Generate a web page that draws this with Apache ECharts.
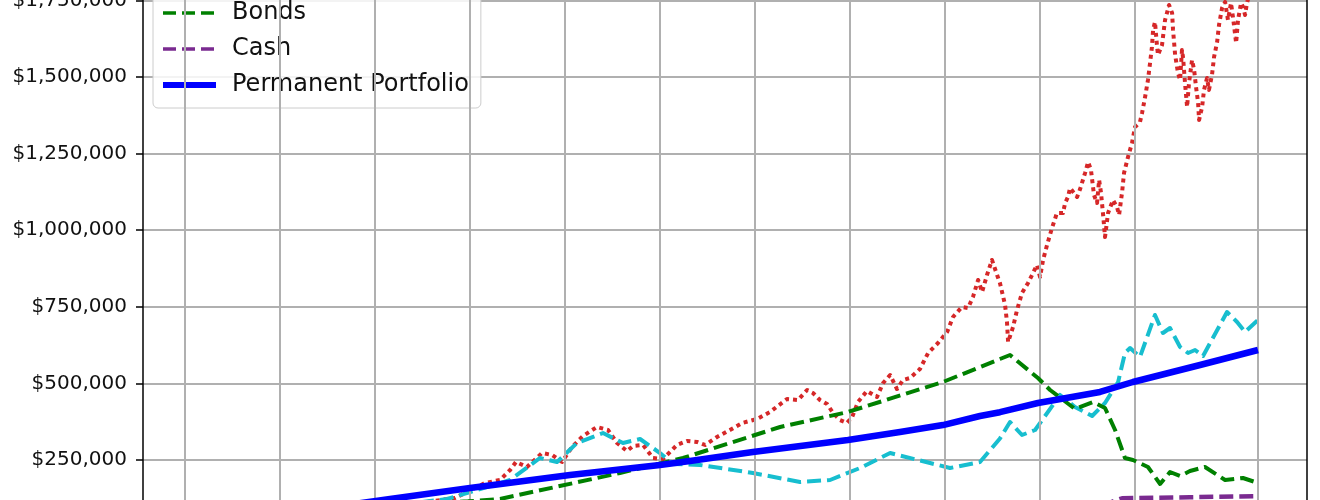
<!DOCTYPE html>
<html><head><meta charset="utf-8">
<script src="https://cdn.jsdelivr.net/npm/echarts/dist/echarts.min.js"></script>
<style>html,body{margin:0;padding:0;background:#fff}#c{width:1320px;height:500px}</style>
</head><body><div id="c"></div>
<script>
const seriesNames = ['Stocks', 'Gold', 'Bonds', 'Cash', 'Permanent Portfolio'];

const stocks = [[1973.16,100000],[1977.37,110000],[1979.21,126000],[1980.37,161900],[1980.79,175000],[1981.58,184700],[1982.11,217400],[1982.42,243500],[1983.0,227200],[1983.79,273000],[1984.32,266300],[1984.84,243500],[1985.37,292500],[1985.95,328400],[1986.68,357800],[1987.26,348000],[1987.74,305500],[1988.26,279400],[1988.58,295700],[1989.11,299000],[1989.63,256500],[1990.16,253300],[1990.89,299000],[1991.42,312000],[1991.95,308800],[1992.37,299000],[1993.0,325100],[1993.68,348000],[1994.32,370800],[1995.11,383800],[1995.79,406700],[1996.68,449100],[1997.26,445800],[1997.74,478500],[1998.05,468700],[1998.42,445800],[1998.79,432800],[1999.11,403400],[1999.47,380500],[1999.84,370800],[2000.11,390300],[2000.42,439300],[2000.89,475200],[2001.42,455600],[2001.74,501300],[2002.11,527400],[2002.47,481700],[2002.79,511100],[2003.16,517600],[2003.68,547000],[2004.11,599200],[2004.63,631900],[2005.11,667800],[2005.42,716800],[2005.89,749400],[2006.21,746100],[2006.47,782000],[2006.74,837500],[2006.95,798400],[2007.21,853800],[2007.47,902800],[2007.74,853800],[2007.89,827800],[2008.16,756000],[2008.26,700400],[2008.32,635100],[2008.58,684100],[2008.79,739600],[2009.05,795100],[2009.37,827800],[2009.63,860400],[2009.84,886500],[2010.0,847400],[2010.16,902800],[2010.37,951800],[2010.63,1007300],[2010.89,1056200],[2011.21,1056200],[2011.32,1088800],[2011.47,1108400],[2011.58,1137800],[2011.95,1108400],[2012.11,1134500],[2012.37,1186700],[2012.53,1222500],[2012.68,1196600],[2012.84,1115000],[2013.0,1088800],[2013.11,1164000],[2013.21,1121500],[2013.32,1049700],[2013.42,977900],[2013.58,1056200],[2013.84,1098600],[2014.05,1075800],[2014.16,1049700],[2014.32,1124700],[2014.42,1186700],[2014.63,1239000],[2014.84,1284700],[2015.0,1336900],[2015.26,1353200],[2015.37,1382600],[2015.53,1435000],[2015.68,1490300],[2015.79,1545800],[2015.89,1598000],[2015.95,1653500],[2016.05,1679600],[2016.16,1598000],[2016.21,1572000],[2016.42,1604600],[2016.58,1686200],[2016.68,1709000],[2016.79,1735100],[2016.95,1709000],[2017.0,1653500],[2017.11,1572000],[2017.26,1513200],[2017.37,1490300],[2017.47,1588200],[2017.53,1562100],[2017.63,1480500],[2017.74,1402200],[2017.84,1480500],[2018.0,1555600],[2018.11,1523000],[2018.21,1467500],[2018.32,1415200],[2018.37,1359700],[2018.53,1402200],[2018.63,1457700],[2018.79,1496900],[2018.89,1457700],[2019.05,1506600],[2019.16,1565400],[2019.32,1614300],[2019.42,1669800],[2019.58,1725300],[2019.74,1745000],[2019.89,1686200],[2020.05,1741700],[2020.16,1692700],[2020.32,1611100],[2020.42,1686200],[2020.58,1741700],[2020.68,1728700],[2020.79,1702500],[2020.89,1741700],[2021.16,1800000],[2021.47,1784000]];

const gold = [[1973.16,100000],[1977.37,112000],[1978.79,122700],[1982.11,184700],[1983.68,256500],[1984.58,243500],[1985.63,305500],[1987.0,338100],[1988.05,305500],[1988.95,318500],[1990.0,272800],[1990.68,237000],[1992.11,233700],[1994.89,207600],[1997.37,178200],[1998.95,184700],[2000.53,223900],[2002.11,272800],[2004.21,240200],[2005.26,223900],[2006.84,243500],[2007.89,320000],[2008.42,374000],[2009.05,331600],[2009.74,347900],[2011.05,462200],[2011.84,423000],[2012.74,393600],[2013.42,436000],[2014.11,504600],[2014.47,599200],[2014.74,615600],[2015.26,586200],[2016.05,723300],[2016.47,664500],[2016.84,680800],[2017.37,618800],[2017.79,599200],[2018.16,609000],[2018.58,589500],[2019.84,733000],[2020.37,700400],[2020.79,667800],[2021.47,707000]];

const bonds = [[1973.16,100000],[1979.89,115000],[1981.58,122700],[1987.89,207600],[1991.21,256500],[1996.32,357700],[1999.89,406700],[2004.89,504600],[2007.89,579700],[2008.42,592700],[2009.89,517600],[2010.53,478500],[2011.84,416500],[2012.79,439300],[2013.42,419700],[2013.95,347900],[2014.47,256500],[2014.89,250000],[2015.68,227200],[2016.32,171700],[2016.84,210800],[2017.37,197800],[2017.89,214000],[2018.68,227200],[2019.74,184700],[2020.68,191200],[2021.47,175000]];

const cash = [[1973.16,100000],[2007.89,108000],[2013.68,111000],[2014.32,125000],[2017.89,128500],[2021.47,132000]];

const permanent = [[1973.16,100000],[1975.79,122700],[1980.0,158600],[1985.26,201000],[1990.0,233700],[1991.58,246700],[1994.89,276000],[1999.89,315000],[2002.63,341400],[2004.89,364000],[2006.84,393600],[2007.89,406000],[2009.89,436000],[2013.16,472000],[2014.89,504600],[2018.42,560000],[2021.47,609000]];

const xGridYears = [1965, 1970, 1975, 1980, 1985, 1990, 1995, 2000, 2005, 2010, 2015, 2021.47];
const xMin = 1962.79, xMax = 2024.05;
const yMin = 0, yMax = 2000000, yStep = 250000;

const chart = echarts.init(document.getElementById('c'), null, {renderer: 'canvas'});
const font = 'DejaVu Sans';
const fmt = v => '$' + Math.round(v).toLocaleString('en-US');

const styles = [
  {color: '#d62728', width: 4, type: [4, 4]},
  {color: '#17becf', width: 4, type: [14, 6]},
  {color: '#008000', width: 4, type: [14, 6]},
  {color: '#7a2a90', width: 4.5, type: [14, 6]},
  {color: '#0000ff', width: 6.5, type: 'solid'}
];
const dataSets = [stocks, gold, bonds, cash, permanent];

const lineSeries = dataSets.map((data, i) => ({
  name: seriesNames[i], type: 'line', data, z: 3 + i,
  symbol: 'none', showSymbol: false, smooth: false,
  lineStyle: {color: styles[i].color, width: styles[i].width, type: styles[i].type, cap: 'butt', join: 'round'},
  itemStyle: {color: styles[i].color},
  animation: false, silent: true
}));

chart.setOption({
  animation: false,
  backgroundColor: '#ffffff',
  grid: {left: 143, right: 13, top: -76.2, bottom: -36.6, containLabel: false, outerBoundsMode: 'none'},
  xAxis: {
    type: 'value', min: xMin, max: xMax,
    axisLine: {show: true, lineStyle: {color: '#000', width: 1.5}},
    axisTick: {show: false}, axisLabel: {show: false}, splitLine: {show: false}
  },
  yAxis: [{
    type: 'value', min: yMin, max: yMax, interval: yStep,
    axisLine: {show: true, lineStyle: {color: '#000', width: 1.5}},
    axisTick: {show: true, length: 7, lineStyle: {color: '#000', width: 1.5}},
    axisLabel: {formatter: fmt, fontFamily: font, fontSize: 20, color: '#111111', margin: 16},
    splitLine: {show: true, lineStyle: {color: '#b0b0b0', width: 2}}
  }, {
    type: 'value', min: yMin, max: yMax, interval: yStep, position: 'right',
    axisLine: {show: true, lineStyle: {color: '#000', width: 1.5}},
    axisTick: {show: false}, axisLabel: {show: false}, splitLine: {show: false}
  }],
  legend: {
    data: seriesNames.map((n, i) => ({
      name: n,
      lineStyle: {color: styles[i].color, width: i === 4 ? 6 : 3.5, type: i === 0 ? [4, 4] : (i === 4 ? 'solid' : [13, 6])},
      itemStyle: {color: 'rgba(0,0,0,0)', borderColor: 'rgba(0,0,0,0)', borderWidth: 0, opacity: 0}
    })),
    orient: 'vertical', left: 153, top: -82,
    itemWidth: 53, itemHeight: 24, itemGap: 12,
    padding: [11, 12, 11, 7],
    backgroundColor: 'rgba(255,255,255,0.85)', borderColor: '#cccccc', borderWidth: 1, borderRadius: 5,
    textStyle: {fontFamily: font, fontSize: 24, color: '#111111', lineHeight: 24, padding: [0, 0, 0, 11]}
  },
  series: [
    {
      name: '_grid', type: 'line', data: [], z: 1, silent: true, animation: false,
      markLine: {
        silent: true, animation: false, symbol: ['none', 'none'],
        label: {show: false},
        lineStyle: {color: '#b0b0b0', width: 2, type: 'solid'},
        data: xGridYears.map(v => ({xAxis: v}))
      }
    }
  ].concat(lineSeries)
});
</script></body></html>
